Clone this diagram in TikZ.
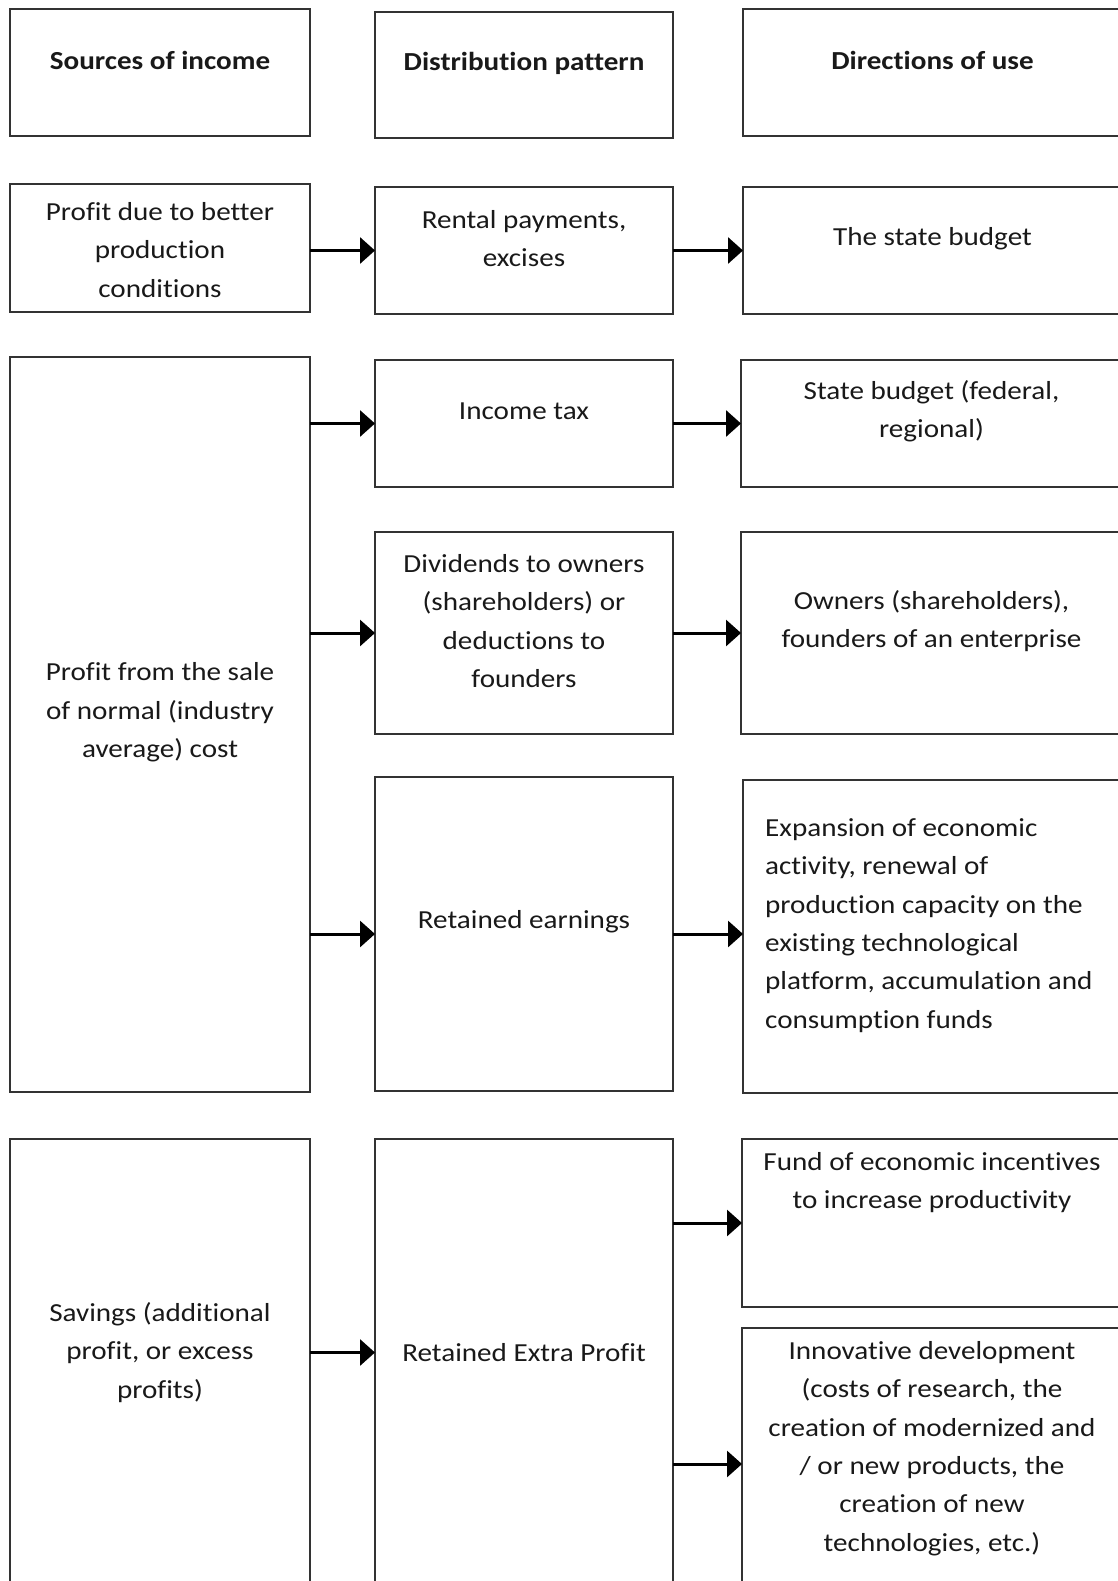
\documentclass[tikz,border=0pt]{standalone}
\usepackage{fontspec}
\setmainfont[Ligatures=NoCommon, FakeStretch=1.12]{Carlito}
\usetikzlibrary{arrows.meta}
\tikzstyle{box}=[draw=black!80, line width=2pt, inner sep=0, outer sep=0]
\tikzstyle{txt}=[inner sep=0, align=center, text=black!90, font=\fontsize{26}{38.4}\selectfont]
\tikzstyle{head}=[txt, font=\fontsize{26}{38.4}\selectfont\bfseries]
\tikzstyle{arr}=[line width=3pt, -{Triangle[length=15pt, width=26pt]}]
\tikzstyle{flowchart}=[x=1pt, y=-1pt]

\begin{document}
\begin{tikzpicture}[flowchart]
    \useasboundingbox[fill=white] (0, 0) rectangle (1118, 1581);
    % column headers
    \node[box, minimum width=300pt, minimum height=127pt] (srchead) at (160, 72.5) {};
    \node[box, minimum width=298pt, minimum height=126pt] (disthead) at (524, 75) {};
    \node[box, minimum width=379pt, minimum height=127pt] (usehead) at (932.5, 72.5) {};
    \node[head, yshift=12pt] (srchead-t) at (srchead) {Sources of income};
    \node[head, yshift=12pt] (disthead-t) at (disthead) {Distribution pattern};
    \node[head, yshift=12pt] (usehead-t) at (usehead) {Directions of use};
    % row 1
    \node[box, minimum width=300pt, minimum height=128pt] (better) at (160, 248) {};
    \node[box, minimum width=298pt, minimum height=127pt] (rental) at (524, 250.5) {};
    \node[box, minimum width=379pt, minimum height=127pt] (state) at (932.5, 250.5) {};
    \node[txt, yshift=-2pt] (better-t) at (better) {Profit due to better\\production\\conditions};
    \node[txt, yshift=12pt] (rental-t) at (rental) {Rental payments,\\excises};
    \node[txt, yshift=12pt] (state-t) at (state) {The state budget};
    % row 2
    \node[box, minimum width=300pt, minimum height=735pt] (normal) at (160, 724.5) {};
    \node[box, minimum width=298pt, minimum height=127pt] (tax) at (524, 423.5) {};
    \node[box, minimum width=381pt, minimum height=127pt] (budget) at (931.5, 423.5) {};
    \node[box, minimum width=298pt, minimum height=202pt] (divid) at (524, 633) {};
    \node[box, minimum width=381pt, minimum height=202pt] (owners) at (931.5, 633) {};
    \node[box, minimum width=298pt, minimum height=314pt] (retain) at (524, 934) {};
    \node[box, minimum width=379pt, minimum height=313pt] (expand) at (932.5, 936.5) {};
    \node[txt, yshift=12pt] (normal-t) at (normal) {Profit from the sale\\of normal (industry\\average) cost};
    \node[txt, yshift=12pt] (tax-t) at (tax) {Income tax};
    \node[txt, yshift=12pt] (budget-t) at (budget) {State budget (federal,\\regional)};
    \node[txt, yshift=12pt] (divid-t) at (divid) {Dividends to owners\\(shareholders) or\\deductions to\\founders};
    \node[txt, yshift=12pt] (owners-t) at (owners) {Owners (shareholders),\\founders of an enterprise};
    \node[txt, yshift=12pt] (retain-t) at (retain) {Retained earnings};
    \node[txt, align=left, anchor=west, yshift=11pt, xshift=22pt] (expand-t) at (expand.west) {Expansion of economic\\activity, renewal of\\production capacity on the\\existing technological\\platform, accumulation and\\consumption funds};
    % row 3
    \node[box, minimum width=300pt, minimum height=451pt] (savings) at (160, 1364.5) {};
    \node[box, minimum width=298pt, minimum height=451pt] (extra) at (524, 1364.5) {};
    \node[box, minimum width=380pt, minimum height=168pt] (fund) at (932, 1223) {};
    \node[box, minimum width=380pt, minimum height=272pt] (innov) at (932, 1464) {};
    \node[txt, yshift=12pt] (savings-t) at (savings) {Savings (additional\\profit, or excess\\profits)};
    \node[txt, yshift=12pt] (extra-t) at (extra) {Retained Extra Profit};
    \node[txt, anchor=north, yshift=-13pt] (fund-t) at (fund.north) {Fund of economic incentives\\to increase productivity};
    \node[txt, anchor=north, yshift=-13pt] (innov-t) at (innov.north) {Innovative development\\(costs of research, the\\creation of modernized and\\/ or new products, the\\creation of new\\technologies, etc.)};
    % connectors
    \draw[arr] (better.east |- rental.west) -- (rental.west);
    \draw[arr] (rental.east) -- (state.west);
    \draw[arr] (normal.east |- tax.west) -- (tax.west);
    \draw[arr] (tax.east) -- (budget.west);
    \draw[arr] (normal.east |- divid.west) -- (divid.west);
    \draw[arr] (divid.east) -- (owners.west);
    \draw[arr] (normal.east |- retain.west) -- (retain.west);
    \draw[arr] (retain.east) -- (retain.east -| expand.west);
    \draw[arr] (savings.east |- extra-t) -- (extra.west |- extra-t);
    \draw[arr] (extra.east |- fund.west) -- (fund.west);
    \draw[arr] (extra.east |- innov.west) -- (innov.west);
\end{tikzpicture}
\end{document}
